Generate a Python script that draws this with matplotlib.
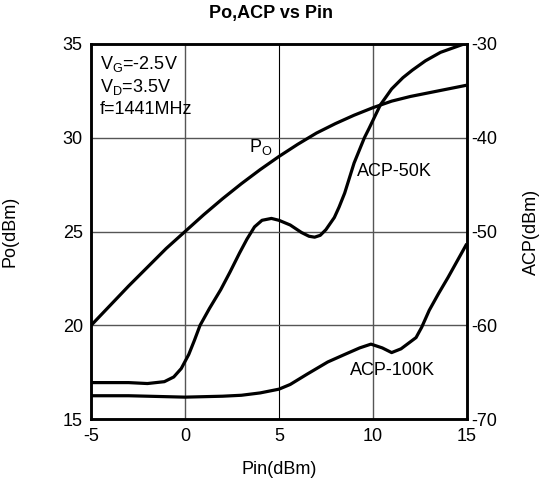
import matplotlib.pyplot as plt

plt.rcParams['font.family'] = ['Liberation Sans', 'DejaVu Sans']
plt.rcParams['axes.unicode_minus'] = False

# Output power Po (left axis, dBm) vs input power Pin (dBm)
pin_po = [-5, -4, -3, -2, -1, 0, 1, 2, 3, 4, 5, 6, 7, 8, 9, 10, 11, 12, 13, 14, 15]
po = [20.0, 21.05, 22.1, 23.1, 24.1, 25.0, 25.9, 26.75, 27.55, 28.3, 29.0, 29.65,
      30.25, 30.75, 31.2, 31.6, 31.95, 32.2, 32.4, 32.6, 32.8]

# ACP at 50 kHz offset (right axis, dBm)
pin_50k = [-5, -3, -2, -1.1, -0.6, -0.2, 0.2, 0.5, 0.8, 1.3, 1.9, 2.4, 2.9, 3.3,
           3.7, 4.1, 4.6, 5.0, 5.6, 6.2, 6.6, 6.9, 7.2, 7.5, 7.95, 8.2, 8.5, 9.0,
           9.55, 9.8, 10.4, 11.0, 11.6, 12.1, 12.8, 13.6, 14.3, 15.0]
acp_50k = [-66.1, -66.1, -66.2, -66.0, -65.5, -64.6, -63.1, -61.6, -60.0, -58.2,
           -56.2, -54.3, -52.3, -50.8, -49.5, -48.8, -48.6, -48.8, -49.3, -50.1,
           -50.5, -50.6, -50.4, -49.8, -48.5, -47.4, -45.9, -42.7, -40.0, -39.0,
           -36.5, -34.8, -33.6, -32.8, -31.8, -30.9, -30.4, -29.9]

# ACP at 100 kHz offset (right axis, dBm)
pin_100k = [-5, -3, -1, 0, 1, 2, 3, 4, 5, 5.6, 6.5, 7.6, 8.5, 9.3, 9.9, 10.5,
            11.0, 11.5, 11.9, 12.3, 12.6, 13.0, 13.5, 14.0, 14.5, 15.0]
acp_100k = [-67.5, -67.5, -67.6, -67.65, -67.6, -67.55, -67.45, -67.2, -66.8,
            -66.3, -65.2, -63.9, -63.1, -62.4, -62.0, -62.4, -62.9, -62.5,
            -61.9, -61.3, -60.2, -58.4, -56.6, -54.9, -53.1, -51.3]

fig = plt.figure(figsize=(5.39, 4.88), dpi=100)
ax = fig.add_axes([0.169, 0.141, 0.697, 0.769])
ax2 = ax.twinx()

lw = 2.3
ax.plot(pin_po, po, color='black', linewidth=lw, solid_capstyle='butt')
ax2.plot(pin_50k, acp_50k, color='black', linewidth=lw, solid_capstyle='butt')
ax2.plot(pin_100k, acp_100k, color='black', linewidth=lw, solid_capstyle='butt')

ax.set_xlim(-5, 15)
ax.set_ylim(15, 35)
ax2.set_ylim(-70, -30)
ax.set_xticks([-5, 0, 5, 10, 15])
ax.set_yticks([15, 20, 25, 30, 35])
ax2.set_yticks([-70, -60, -50, -40, -30])

# grid: middle vertical line is darker in the original
ax.axvline(0, color='#555555', linewidth=1.0, zorder=0)
ax.axvline(5, color='black', linewidth=0.8, zorder=0)
ax.axvline(10, color='#555555', linewidth=1.0, zorder=0)
for g in [20, 25, 30]:
    ax.axhline(g, color='#555555', linewidth=1.0, zorder=0)

fs = 13
ax.tick_params(length=0, labelsize=fs, pad=6)
ax2.tick_params(length=0, labelsize=fs, pad=3)
for a in (ax, ax2):
    for s in a.spines.values():
        s.set_linewidth(1.8)

ax.set_xlabel('Pin(dBm)', fontsize=fs, labelpad=12)
ax.set_ylabel('Po(dBm)', fontsize=fs, labelpad=32)
ax2.set_ylabel('ACP(dBm)', fontsize=fs, labelpad=19)
ax.set_title('Po,ACP vs Pin', fontsize=fs, fontweight='bold', pad=19, x=0.48)

ax.text(-4.55, 33.92, r'V$_\mathregular{G}$=-2.5V', fontsize=fs, va='center')
ax.text(-4.55, 32.72, r'V$_\mathregular{D}$=3.5V', fontsize=fs, va='center')
ax.text(-4.55, 31.52, 'f=1441MHz', fontsize=fs, va='center')
ax.text(3.4, 29.5, r'P$_\mathregular{O}$', fontsize=fs, va='center')
ax.text(9.15, 28.2, 'ACP-50K', fontsize=fs, va='center')
ax.text(8.8, 17.6, 'ACP-100K', fontsize=fs, va='center')

fig.savefig('out.png', dpi=100)
